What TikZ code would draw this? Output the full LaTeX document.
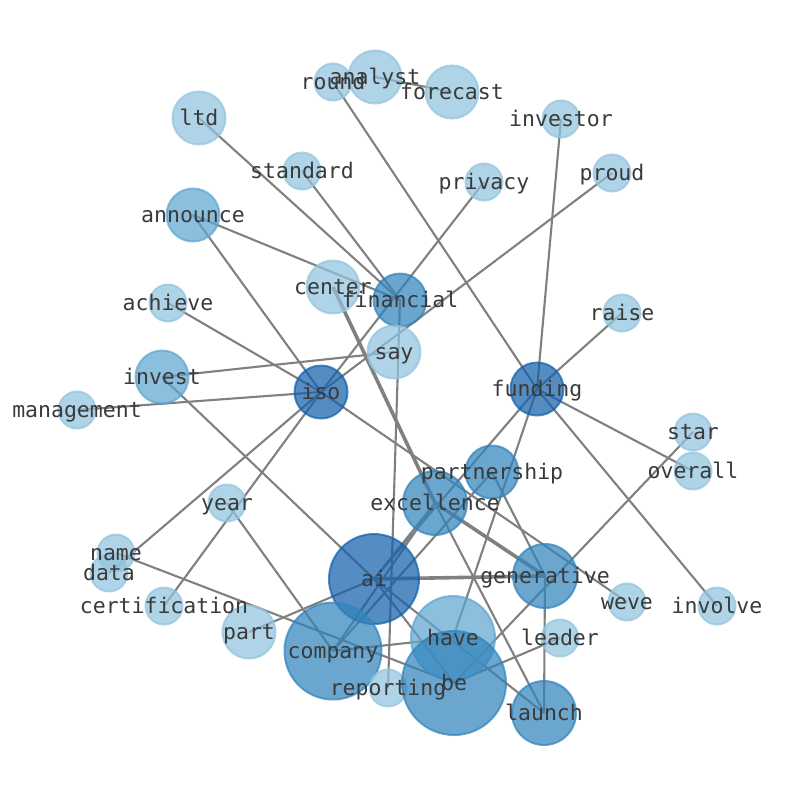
\documentclass[tikz,border=0pt]{standalone}
\usepackage{fontspec}
\newfontfamily\labfont{DejaVu Sans Mono}
\definecolor{cL}{RGB}{146,195,222}
\definecolor{cM}{RGB}{95,165,208}
\definecolor{cD}{RGB}{50,132,188}
\definecolor{cX}{RGB}{20,96,171}
\definecolor{edgec}{RGB}{128,128,128}
\definecolor{txt}{RGB}{58,58,58}
\tikzset{
  base/.style={circle, inner sep=0pt, line width=2pt, fill opacity=0.72, draw opacity=0.72},
  nL/.style={base, fill=cL, draw=cL},
  nM/.style={base, fill=cM, draw=cM},
  nD/.style={base, fill=cD, draw=cD},
  nX/.style={base, fill=cX, draw=cX},
  s1/.style={minimum size=37pt},
  s2/.style={minimum size=53pt},
  s3/.style={minimum size=64pt},
  lab/.style={font=\labfont\fontsize{21.5}{24}\selectfont, text=txt, text height=17pt, text depth=3pt, inner sep=0pt},
  ed/.style={draw=edgec, line width=2.1pt},
  edw/.style={draw=edgec, line width=3.6pt}
}
\begin{document}
\begin{tikzpicture}[x={(1pt,0)}, y={(0,-1pt)}]
\useasboundingbox (0,0) rectangle (794,790);
% node positions
\coordinate (round) at (333,82);
\coordinate (analyst) at (375,77);
\coordinate (forecast) at (452,92);
\coordinate (investor) at (561,119);
\coordinate (ltd) at (199,118);
\coordinate (standard) at (302,171);
\coordinate (privacy) at (484,182);
\coordinate (proud) at (612,173);
\coordinate (announce) at (193,215);
\coordinate (center) at (333,287);
\coordinate (financial) at (400,300);
\coordinate (achieve) at (168,303);
\coordinate (raise) at (622,313);
\coordinate (say) at (394,352);
\coordinate (invest) at (162,377);
\coordinate (iso) at (321,392);
\coordinate (funding) at (537,389);
\coordinate (management) at (77,410);
\coordinate (star) at (693,432);
\coordinate (overall) at (693,471);
\coordinate (partnership) at (492,472);
\coordinate (excellence) at (435,503);
\coordinate (year) at (227,503);
\coordinate (name) at (116,553);
\coordinate (data) at (109,573);
\coordinate (generative) at (545,576);
\coordinate (ai) at (374,579);
\coordinate (weve) at (627,602);
\coordinate (involve) at (717,606);
\coordinate (certification) at (164,606);
\coordinate (part) at (249,632);
\coordinate (have) at (453,638);
\coordinate (leader) at (560,638);
\coordinate (company) at (333,651);
\coordinate (reporting) at (388,688);
\coordinate (be) at (454,683);
\coordinate (launch) at (544,713);
% edges
\draw[ed] (round) -- (funding);
\draw[ed] (analyst) -- (forecast);
\draw[ed] (ltd) -- (financial);
\draw[ed] (standard) -- (financial);
\draw[ed] (announce) -- (financial);
\draw[ed] (announce) -- (iso);
\draw[ed] (achieve) -- (iso);
\draw[ed] (invest) -- (say);
\draw[ed] (invest) -- (ai);
\draw[ed] (management) -- (iso);
\draw[ed] (privacy) -- (iso);
\draw[ed] (proud) -- (iso);
\draw[ed] (financial) -- (reporting);
\draw[edw] (center) -- (excellence);
\draw[ed] (excellence) -- (launch);
\draw[ed] (iso) -- (weve);
\draw[ed] (funding) -- (investor);
\draw[ed] (funding) -- (raise);
\draw[ed] (funding) -- (overall);
\draw[ed] (funding) -- (involve);
\draw[ed] (funding) -- (have);
\draw[ed] (funding) -- (ai);
\draw[ed] (star) -- (be);
\draw[ed] (partnership) -- (generative);
\draw[edw] (excellence) -- (generative);
\draw[edw] (ai) -- (generative);
\draw[ed] (generative) -- (launch);
\draw[ed] (leader) -- (be);
\draw[ed] (ai) -- (be);
\draw[ed] (ai) -- (launch);
\draw[ed] (company) -- (have);
\draw[ed] (part) -- (ai);
\draw[ed] (iso) -- (certification);
\draw[ed] (year) -- (company);
\draw[ed] (iso) -- (data);
\draw[ed] (name) -- (be);
\draw[ed] (company) -- (excellence);
\draw[ed] (company) -- (partnership);
\draw[ed] (ai) -- (excellence);
% circles
\node[nL,s1] (c-round) at (round) {};
\node[nL,s2] (c-analyst) at (analyst) {};
\node[nL,s2] (c-forecast) at (forecast) {};
\node[nL,s1] (c-investor) at (investor) {};
\node[nL,s2] (c-ltd) at (ltd) {};
\node[nL,s1] (c-standard) at (standard) {};
\node[nL,s1] (c-privacy) at (privacy) {};
\node[nL,s1] (c-proud) at (proud) {};
\node[nM,s2] (c-announce) at (announce) {};
\node[nL,s2] (c-center) at (center) {};
\node[nD,s2] (c-financial) at (financial) {};
\node[nL,s1] (c-achieve) at (achieve) {};
\node[nL,s1] (c-raise) at (raise) {};
\node[nL,s2] (c-say) at (say) {};
\node[nM,s2] (c-invest) at (invest) {};
\node[nX,s2] (c-iso) at (iso) {};
\node[nX,s2] (c-funding) at (funding) {};
\node[nL,s1] (c-management) at (management) {};
\node[nL,s1] (c-star) at (star) {};
\node[nL,s1] (c-overall) at (overall) {};
\node[nD,s2] (c-partnership) at (partnership) {};
\node[nD,s3] (c-excellence) at (excellence) {};
\node[nL,s1] (c-year) at (year) {};
\node[nL,s1] (c-name) at (name) {};
\node[nL,s1] (c-data) at (data) {};
\node[nD,s3] (c-generative) at (generative) {};
\node[nX,minimum size=90pt] (c-ai) at (ai) {};
\node[nL,s1] (c-weve) at (weve) {};
\node[nL,s1] (c-involve) at (involve) {};
\node[nL,s1] (c-certification) at (certification) {};
\node[nL,s2] (c-part) at (part) {};
\node[nM,minimum size=84pt] (c-have) at (have) {};
\node[nL,s1] (c-leader) at (leader) {};
\node[nD,minimum size=97pt] (c-company) at (company) {};
\node[nL,s1] (c-reporting) at (reporting) {};
\node[nD,minimum size=104pt] (c-be) at (be) {};
\node[nD,s3] (c-launch) at (launch) {};
% labels
\node[lab] (l-round) at (round) {round};
\node[lab] (l-analyst) at (analyst) {analyst};
\node[lab] (l-forecast) at (forecast) {forecast};
\node[lab] (l-investor) at (investor) {investor};
\node[lab] (l-ltd) at (ltd) {ltd};
\node[lab] (l-standard) at (standard) {standard};
\node[lab] (l-privacy) at (privacy) {privacy};
\node[lab] (l-proud) at (proud) {proud};
\node[lab] (l-announce) at (announce) {announce};
\node[lab] (l-center) at (center) {center};
\node[lab] (l-financial) at (financial) {financial};
\node[lab] (l-achieve) at (achieve) {achieve};
\node[lab] (l-raise) at (raise) {raise};
\node[lab] (l-say) at (say) {say};
\node[lab] (l-invest) at (invest) {invest};
\node[lab] (l-iso) at (iso) {iso};
\node[lab] (l-funding) at (funding) {funding};
\node[lab] (l-management) at (management) {management};
\node[lab] (l-star) at (star) {star};
\node[lab] (l-overall) at (overall) {overall};
\node[lab] (l-partnership) at (partnership) {partnership};
\node[lab] (l-excellence) at (excellence) {excellence};
\node[lab] (l-year) at (year) {year};
\node[lab] (l-name) at (name) {name};
\node[lab] (l-data) at (data) {data};
\node[lab] (l-generative) at (generative) {generative};
\node[lab] (l-ai) at (ai) {ai};
\node[lab] (l-weve) at (weve) {weve};
\node[lab] (l-involve) at (involve) {involve};
\node[lab] (l-certification) at (certification) {certification};
\node[lab] (l-part) at (part) {part};
\node[lab] (l-have) at (have) {have};
\node[lab] (l-leader) at (leader) {leader};
\node[lab] (l-company) at (company) {company};
\node[lab] (l-reporting) at (reporting) {reporting};
\node[lab] (l-be) at (be) {be};
\node[lab] (l-launch) at (launch) {launch};
\end{tikzpicture}
\end{document}
